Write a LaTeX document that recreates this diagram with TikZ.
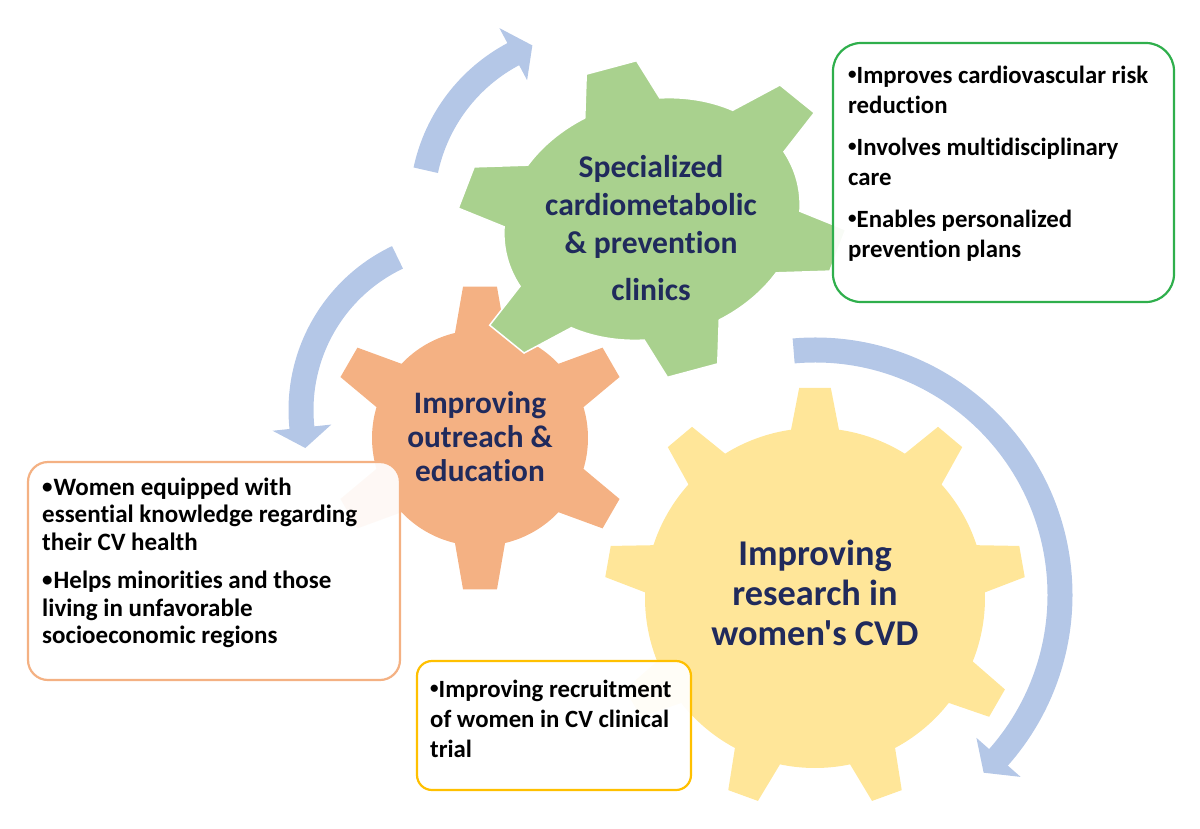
\documentclass[tikz,border=0pt]{standalone}
\usepackage{fontspec}
\setmainfont{Carlito}[Ligatures={TeXOff,NoCommon}]
\definecolor{gGreen}{HTML}{A9D18E}
\definecolor{gOrange}{HTML}{F4B183}
\definecolor{gYellow}{HTML}{FFE699}
\definecolor{aBlue}{HTML}{B4C7E7}
\definecolor{navy}{HTML}{202A5C}
\definecolor{bGreen}{HTML}{2FAF4C}
\definecolor{bYellow}{HTML}{FFC000}
% gear outline: #1 last tooth index, #2 angular step, #3 first tooth angle,
% #4 tip radius, #5 base half-angle, #6 tip half-angle (body radius 1)
\newcommand\geartrack[6]{({#3-#5}:1) \foreach \k [evaluate=\k as \t using #3+\k*#2] in {0,...,#1}
  { -- ({\t-#6}:#4) -- ({\t+#6}:#4) -- ({\t+#5}:1) arc[start angle={\t+#5}, end angle={\t+#2-#5}, radius=1] } -- cycle}
\newcommand\bul{{\fontsize{17}{17}\selectfont\raisebox{3.2pt}{•}}}
\newcommand\bulo{{\fontsize{21}{21}\selectfont\raisebox{2pt}{•}}\kern1pt}
\begin{document}
\begin{tikzpicture}[x=1pt,y=-1pt,
  band/.style={line width=25pt, aBlue},
  head/.style={fill=aBlue},
  geartext/.style={text=navy, inner sep=0pt, anchor=base},
  boxtext/.style={text=black, inner sep=0pt, anchor=base west},
  infobox/.style={draw=#1, line width=2.2pt, fill=white, fill opacity=0.92, rectangle, inner sep=0pt}]
\useasboundingbox (0,0) rectangle (1200,828);

% ---- blue circular arrows ----
\begin{scope}[shift={(594,206)}, x=1pt, y=1pt]
  \draw[band] (168:172) arc[start angle=168, end angle=117.7, radius=172];
  \fill[head] (118:142.5) -- (118:201.5) -- (111:172) -- cycle;
\end{scope}
\begin{scope}[shift={(470,410)}, x=1pt, y=1pt]
  \draw[band] (115.4:169) arc[start angle=115.4, end angle=186.3, radius=169];
  \fill[head] (186:139.5) -- (186:198.5) -- (193:169) -- cycle;
\end{scope}
\begin{scope}[shift={(815,595)}, x=1pt, y=1pt]
  \draw[band] (95:245) arc[start angle=95, end angle=-41.7, radius=245];
  \fill[head] (-41.5:215.5) -- (-41.5:274.5) -- (-46.5:245) -- cycle;
\end{scope}

% ---- gears ----
\begin{scope}[shift={(480,438)}, x=108pt, y=108pt]
  \fill[gOrange] \geartrack{5}{60}{90}{1.41}{13.4}{6.4};
\end{scope}
\begin{scope}[shift={(652,219)}, rotate=15, x=150pt, y=119pt]
  \filldraw[fill=gGreen, draw=white, line width=1.5pt] \geartrack{5}{60}{90}{1.33}{15}{7.5};
\end{scope}
\begin{scope}[shift={(815,598)}, x=170pt, y=170pt]
  \fill[gYellow] \geartrack{8}{40}{90}{1.24}{8.1}{4.3};
\end{scope}

% ---- gear labels ----
\node[geartext, font=\fontsize{31.6}{38}\selectfont\bfseries] (gtxt) at (651,177)
  {\begin{tabular}[t]{@{}c@{}}Specialized\\cardiometabolic\\\& prevention\\[9pt]clinics\end{tabular}};
\node[geartext, font=\fontsize{31.3}{34}\selectfont\bfseries] (otxt) at (480,413)
  {\begin{tabular}[t]{@{}c@{}}Improving\\outreach \&\\education\end{tabular}};
\node[geartext, font=\fontsize{36.3}{40}\selectfont\bfseries] (ytxt) at (815,565)
  {\begin{tabular}[t]{@{}c@{}}Improving\\research in\\women's CVD\end{tabular}};

% ---- text boxes ----
\node[infobox=bGreen, minimum width=341pt, minimum height=259pt, rounded corners=28pt] (gbox) at (1003.5,172.5) {};
\node[infobox=gOrange, minimum width=372pt, minimum height=218pt, rounded corners=20pt] (obox) at (214,571) {};
\node[infobox=bYellow, minimum width=274pt, minimum height=129pt, rounded corners=15pt] (ybox) at (554,725.5) {};

\node[boxtext, font=\fontsize{24.8}{30}\selectfont\bfseries] (gbtxt) at (848,83)
  {\begin{tabular}[t]{@{}l@{}}\bul Improves cardiovascular risk\\reduction\\[12pt]\bul Involves multidisciplinary\\care\\[12pt]\bul Enables personalized\\prevention plans\end{tabular}};
\node[boxtext, font=\fontsize{25}{27.5}\selectfont\bfseries] (obtxt) at (42,495)
  {\begin{tabular}[t]{@{}l@{}}\bulo Women equipped with\\essential knowledge regarding\\their CV health\\[11pt]\bulo Helps minorities and those\\living in unfavorable\\socioeconomic regions\end{tabular}};
\node[boxtext, font=\fontsize{24.8}{30}\selectfont\bfseries] (ybtxt) at (430,697)
  {\begin{tabular}[t]{@{}l@{}}\bul Improving recruitment\\of women in CV clinical\\trial\end{tabular}};
\end{tikzpicture}
\end{document}
